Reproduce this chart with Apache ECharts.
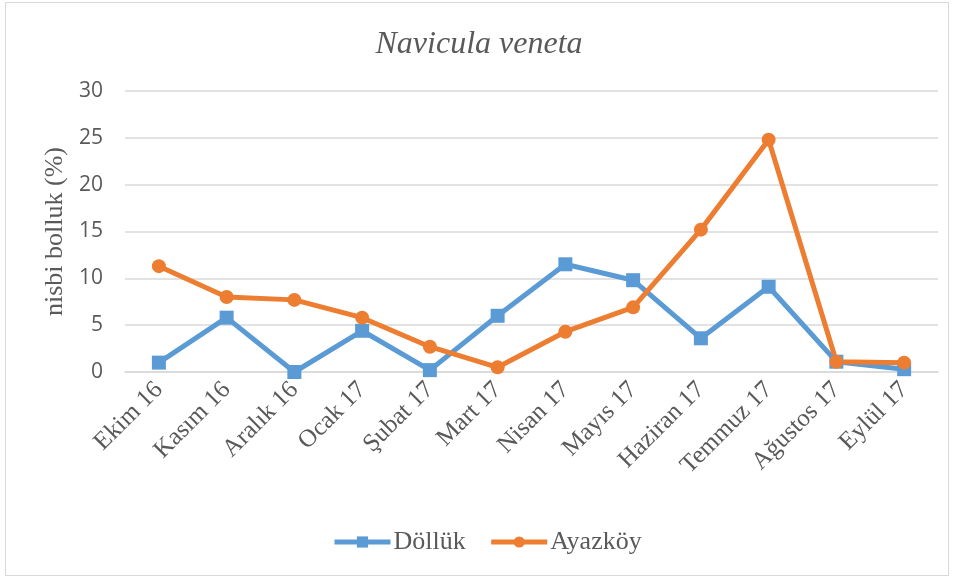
<!DOCTYPE html>
<html>
<head>
<meta charset="utf-8">
<script src="https://cdn.jsdelivr.net/npm/echarts@6/dist/echarts.min.js"></script>
<style>
  html, body { margin: 0; padding: 0; background: #fff; }
  #wrap { position: absolute; left: 5px; top: 2px; width: 942px; height: 572px; border: 1px solid #d9d9d9; }
  #main { width: 958px; height: 579px; position: absolute; left: 0; top: 0; }
</style>
</head>
<body>
<div id="wrap"></div>
<div id="main"></div>
<script type="text/javascript">
    // aylar ve değerler
    var months = ['Ekim 16', 'Kasım 16', 'Aralık 16', 'Ocak 17', 'Şubat 17', 'Mart 17',
                  'Nisan 17', 'Mayıs 17', 'Haziran 17', 'Temmuz 17', 'Ağustos 17', 'Eylül 17'];
    var dolluk = [1.0, 5.8, 0.0, 4.4, 0.2, 6.0, 11.5, 9.8, 3.6, 9.1, 1.1, 0.3];
    var ayazkoy = [11.3, 8.0, 7.7, 5.8, 2.7, 0.5, 4.3, 6.9, 15.2, 24.8, 1.1, 1.0];

    var myChart = echarts.init(document.getElementById('main'));
    var option = {
        animation: false,
        textStyle: { fontFamily: 'Liberation Serif' },
        title: {
            text: 'Navicula veneta',
            left: 'center',
            top: 24,
            textStyle: {
                fontFamily: 'Liberation Serif',
                fontStyle: 'italic',
                fontWeight: 'normal',
                fontSize: 32,
                color: '#595959'
            }
        },
        legend: {
            bottom: 19,
            left: 327,
            itemWidth: 56,
            itemHeight: 14,
            itemGap: 23,
            lineStyle: { width: 5 },
            textStyle: {
                fontFamily: 'Liberation Serif',
                fontSize: 26,
                color: '#595959',
                padding: [0, 0, 0, -2]
            },
            data: ['Döllük', 'Ayazköy']
        },
        grid: {
            left: 125,
            right: 20,
            top: 91,
            bottom: 207
        },
        xAxis: {
            type: 'category',
            data: months,
            boundaryGap: true,
            axisLine: { lineStyle: { color: '#d9d9d9', width: 1.5 } },
            axisTick: { show: false },
            axisLabel: {
                rotate: 45,
                interval: 0,
                margin: 14,
                fontFamily: 'Liberation Serif',
                fontSize: 25,
                color: '#595959'
            }
        },
        yAxis: {
            type: 'value',
            min: 0,
            max: 30,
            interval: 5,
            name: 'nisbi bolluk (%)',
            nameLocation: 'middle',
            nameGap: 52,
            nameTextStyle: {
                fontFamily: 'Liberation Serif',
                fontSize: 26,
                color: '#595959'
            },
            axisLine: { show: false },
            axisTick: { show: false },
            splitLine: { lineStyle: { color: '#d9d9d9', width: 1.5 } },
            axisLabel: {
                margin: 22,
                fontFamily: 'Open Sans',
                fontSize: 21,
                color: '#595959'
            }
        },
        series: [
            {
                name: 'Döllük',
                type: 'line',
                data: dolluk,
                symbol: 'rect',
                symbolSize: 14,
                itemStyle: { color: '#5b9bd5' },
                lineStyle: { width: 5, color: '#5b9bd5' }
            },
            {
                name: 'Ayazköy',
                type: 'line',
                data: ayazkoy,
                symbol: 'circle',
                symbolSize: 14,
                itemStyle: { color: '#ed7d31' },
                lineStyle: { width: 5, color: '#ed7d31' }
            }
        ]
    };
    myChart.setOption(option);
</script>
</body>
</html>
